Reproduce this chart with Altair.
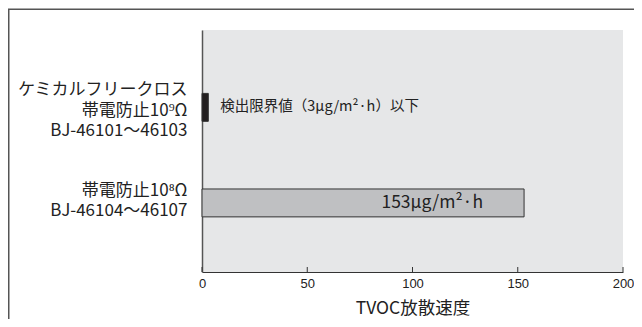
import altair as alt
import pandas as pd

categories = [
    "ケミカルフリークロス|帯電防止10⁹Ω|BJ-46101〜46103",
    "帯電防止10⁸Ω|BJ-46104〜46107",
]
values = [3, 153]
bar_colors = ["#231f20", "#bfc0c2"]
annotations = ["検出限界値（3μg/m²·h）以下", "153μg/m²·h"]
tick_values = [0, 50, 100, 150, 200]
x_title = "TVOC放散速度"

df = pd.DataFrame({"cat": categories, "value": values, "note": annotations, "color": bar_colors})
ticks_df = pd.DataFrame({"t": tick_values})

W, H = 421, 242
JP = "Noto Sans CJK JP"

x_scale = alt.Scale(domain=[0, 200], nice=False)
y_enc = alt.Y(
    "cat:N",
    sort=categories,
    title=None,
    scale=alt.Scale(paddingInner=0.708, paddingOuter=0.62, align=0.535),
    axis=alt.Axis(
        labelExpr="split(datum.label, '|')",
        ticks=False,
        domainColor="#555555",
        domainWidth=1.5,
        labelPadding=15,
        labelFontSize=17,
        labelLineHeight=20.5,
        labelColor="#222222",
        labelFont=JP,
        labelAlign="right",
        labelOffset={
            "condition": {"test": f"datum.value === '{categories[0]}'", "value": -17},
            "value": -12,
        },
    ),
)
x_enc = alt.X(
    "value:Q",
    scale=x_scale,
    axis=alt.Axis(
        values=tick_values,
        ticks=False,
        grid=False,
        domainColor="#333333",
        domainWidth=1.2,
        labelFontSize=13,
        labelFont="Liberation Sans",
        labelColor="#222222",
        labelPadding=5,
        labelFlush=False,
        title=x_title,
        titleFont=JP,
        titleFontSize=17.5,
        titleFontWeight="normal",
        titleColor="#222222",
        titlePadding=9,
    ),
)

base = alt.Chart(df)

bars = base.mark_bar(stroke="#333333", strokeWidth=1).encode(
    x=x_enc,
    y=y_enc,
    color=alt.Color("color:N", scale=None, legend=None),
)

note1 = base.transform_filter(alt.datum.cat == categories[0]).mark_text(
    align="left", baseline="middle", dx=12, font=JP, fontSize=14.5, color="#222222"
).encode(x=alt.X("value:Q", scale=x_scale), y=alt.Y("cat:N", sort=categories), text="note:N")

note2 = base.transform_filter(alt.datum.cat == categories[1]).mark_text(
    align="right", baseline="middle", dx=-41, font=JP, fontSize=17.5, color="#222222"
).encode(x=alt.X("value:Q", scale=x_scale), y=alt.Y("cat:N", sort=categories), text="note:N")

tick_marks = alt.Chart(ticks_df).mark_rule(color="#333333", strokeWidth=1).encode(
    x=alt.X("t:Q", scale=x_scale),
    y=alt.value(H - 5),
    y2=alt.value(H),
)

frame = alt.Chart(pd.DataFrame({"a": [0]})).mark_rect(
    fillOpacity=0, stroke="#555555", strokeWidth=1.5
).encode(
    x=alt.value(-193.25),
    x2=alt.value(700),
    y=alt.value(-20.75),
    y2=alt.value(500),
)

chart = (
    alt.layer(frame, bars, tick_marks, note1, note2)
    .properties(
        width=W,
        height=H,
        autosize=alt.AutoSizeParams(type="none"),
        padding={"left": 194, "top": 22, "right": 11, "bottom": 47},
        background="white",
    )
    .configure_view(strokeWidth=0, fill="#e6e7e8")
)

chart.save("out.html", embed_options={"renderer": "svg", "actions": False})
